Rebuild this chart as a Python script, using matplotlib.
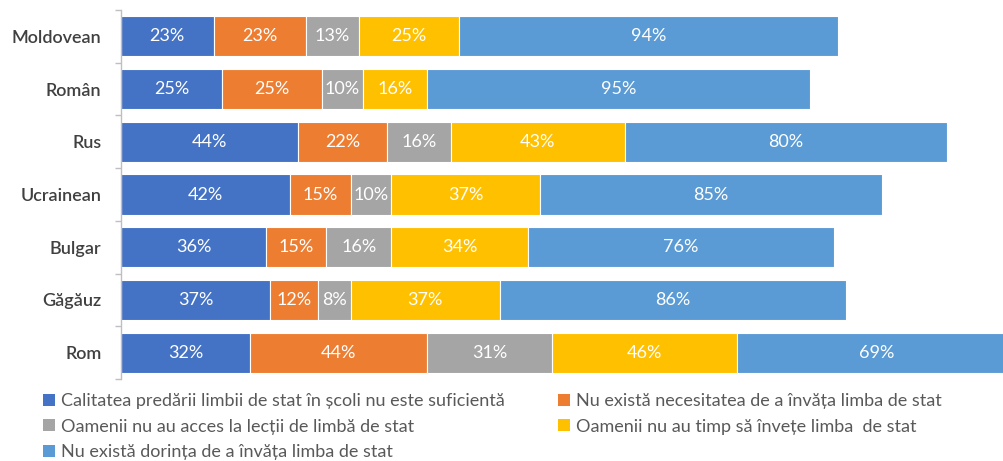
import matplotlib
matplotlib.use("Agg")
import matplotlib.pyplot as plt
from matplotlib.patches import Patch
import numpy as np

plt.rcParams['font.family'] = ['Lato', 'DejaVu Sans']

categories = ["Moldovean", "Român", "Rus", "Ucrainean", "Bulgar", "Găgăuz", "Rom"]
series_names = [
    "Calitatea predării limbii de stat în școli nu este suficientă",
    "Nu există necesitatea de a învăța limba de stat",
    "Oamenii nu au acces la lecții de limbă de stat",
    "Oamenii nu au timp să învețe limba  de stat",
    "Nu există dorința de a învăța limba de stat",
]
calitatea = [23, 25, 44, 42, 36, 37, 32]
necesitate = [23, 25, 22, 15, 15, 12, 44]
acces = [13, 10, 16, 10, 16, 8, 31]
timp = [25, 16, 43, 37, 34, 37, 46]
dorinta = [94, 95, 80, 85, 76, 86, 69]
series = [calitatea, necesitate, acces, timp, dorinta]
colors = ["#4472C4", "#ED7D31", "#A5A5A5", "#FFC000", "#5B9BD5"]

fig = plt.figure(figsize=(10.04, 4.61), dpi=100)
ax = fig.add_axes([121/1004, 1 - 379/461, 1 - 121/1004, (379 - 10)/461])

y = np.arange(len(categories))
left = np.zeros(len(categories))
for vals, col, name in zip(series, colors, series_names):
    vals = np.array(vals, dtype=float)
    ax.barh(y, vals, left=left, height=0.76, color=col,
            edgecolor="white", linewidth=0.8, label=name)
    for yi, l, v in zip(y, left, vals):
        ax.text(l + v / 2, yi, f"{int(v)}%", ha="center", va="center",
                color="white", fontsize=13, clip_on=True)
    left += vals

ax.set_xlim(0, 219.2)
ax.set_ylim(len(categories) - 0.5, -0.5)
ax.set_yticks(y)
ax.set_yticklabels(categories, fontsize=13, color="#404040", fontweight="semibold")
ax.set_yticks(np.arange(-0.5, len(categories) + 0.5, 1), minor=True)
ax.tick_params(axis="y", which="major", length=0, pad=14)
ax.tick_params(axis="y", which="minor", length=4, color="#BFBFBF", width=1)
ax.set_xticks([])
for s in ["top", "right", "bottom"]:
    ax.spines[s].set_visible(False)
ax.spines["left"].set_color("#BFBFBF")
ax.spines["left"].set_linewidth(1)

handles = [Patch(facecolor=c) for c in colors]
leg_kw = dict(frameon=False, fontsize=13, handlelength=0.65, handleheight=0.65,
              handletextpad=0.35, labelspacing=0.54, labelcolor="#595959",
              borderpad=0, borderaxespad=0)
leg1 = fig.legend([handles[0], handles[2], handles[4]],
                  [series_names[0], series_names[2], series_names[4]],
                  loc="upper left", bbox_to_anchor=(43/1004, 1 - 393/461), **leg_kw)
leg2 = fig.legend([handles[1], handles[3]],
                  [series_names[1], series_names[3]],
                  loc="upper left", bbox_to_anchor=(558/1004, 1 - 393/461), **leg_kw)

fig.savefig("out.png", dpi=100)
